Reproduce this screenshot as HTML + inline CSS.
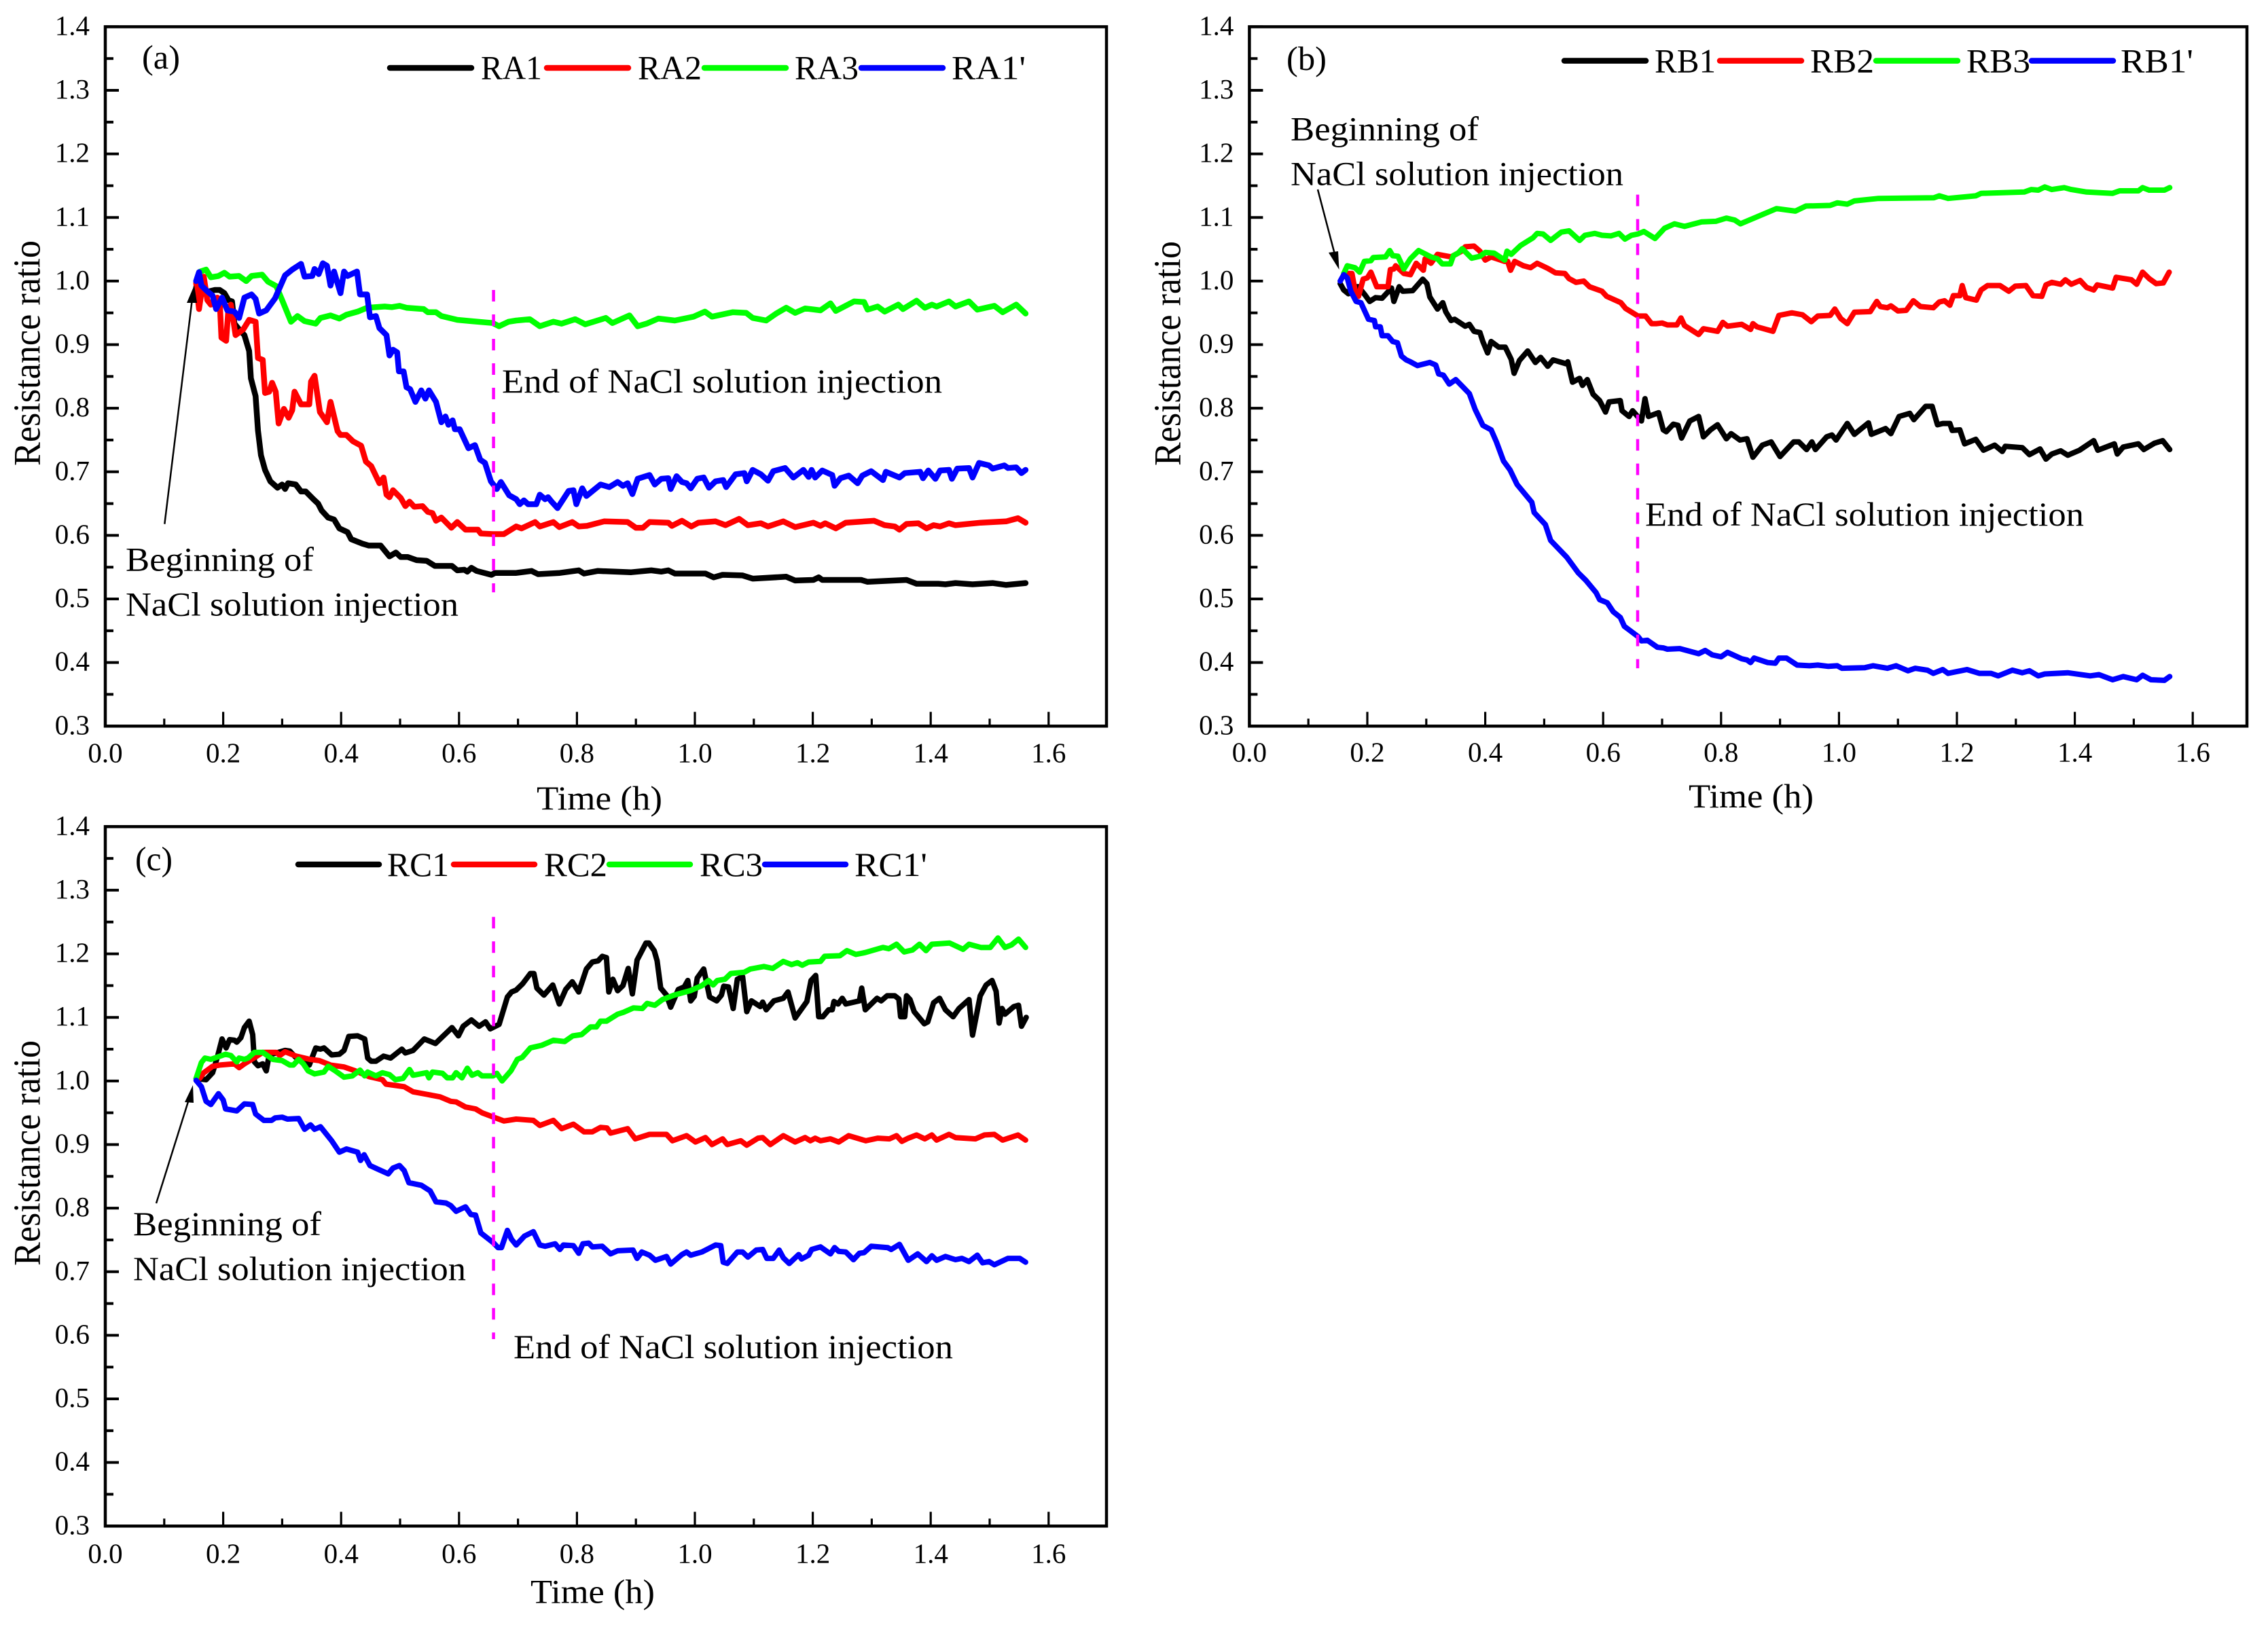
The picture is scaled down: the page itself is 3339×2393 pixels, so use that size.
<!DOCTYPE html>
<html lang="en">
<head>
<meta charset="utf-8">
<title>Resistance ratio over time during NaCl solution injection</title>
<style>
html,body{margin:0;padding:0;background:#fff;}
svg{display:block;}
text{font-family:"Liberation Serif",serif;fill:#000;}
.ann{font-size:50px;}
.leg{font-size:50px;}
.tick{font-size:41px;}
.axt{font-size:50px;}
.ytitle{font-size:56px;}
</style>
</head>
<body>
<svg id="figure" xmlns="http://www.w3.org/2000/svg" width="3339" height="2393" viewBox="0 0 3339 2393">
<rect x="0" y="0" width="3339" height="2393" fill="#fff"/>

<g id="panel-a"></g>
<g id="panel-b"></g>
<g id="panel-c"></g>

<g>
<text x="209" y="101" class="ann" textLength="56" lengthAdjust="spacingAndGlyphs">(a)</text>
<text x="790" y="1192" class="axt" textLength="185" lengthAdjust="spacingAndGlyphs">Time (h)</text>
<text transform="translate(58.5,686) rotate(-90)" class="ytitle" textLength="332" lengthAdjust="spacingAndGlyphs">Resistance ratio</text>
<text x="185" y="840.7" class="ann" textLength="277" lengthAdjust="spacingAndGlyphs">Beginning of</text>
<text x="185" y="906.7" class="ann" textLength="490" lengthAdjust="spacingAndGlyphs">NaCl solution injection</text>
<text x="739" y="578" class="ann" textLength="648" lengthAdjust="spacingAndGlyphs">End of NaCl solution injection</text>
<line x1="242.3" y1="771.7" x2="283" y2="440" stroke="#000" stroke-width="2.5"/>
<polygon points="286,420 275,446 290,446" fill="#000"/>
<line x1="574" y1="100" x2="694" y2="100" stroke="#000" stroke-width="8.5" stroke-linecap="round"/>
<text x="708" y="116.7" class="leg" textLength="90" lengthAdjust="spacingAndGlyphs">RA1</text>
<line x1="805" y1="100" x2="925" y2="100" stroke="#ff0000" stroke-width="8.5" stroke-linecap="round"/>
<text x="939" y="116.7" class="leg" textLength="94" lengthAdjust="spacingAndGlyphs">RA2</text>
<line x1="1037" y1="100" x2="1157" y2="100" stroke="#00ff00" stroke-width="8.5" stroke-linecap="round"/>
<text x="1170" y="116.7" class="leg" textLength="94" lengthAdjust="spacingAndGlyphs">RA3</text>
<line x1="1268" y1="100" x2="1388" y2="100" stroke="#0000ff" stroke-width="8.5" stroke-linecap="round"/>
<text x="1401" y="116.7" class="leg" textLength="109" lengthAdjust="spacingAndGlyphs">RA1'</text>
</g>

<g>
<text x="1894" y="103" class="ann" textLength="59" lengthAdjust="spacingAndGlyphs">(b)</text>
<text x="2486" y="1189" class="axt" textLength="184" lengthAdjust="spacingAndGlyphs">Time (h)</text>
<text transform="translate(1737.4,686) rotate(-90)" class="ytitle" textLength="331" lengthAdjust="spacingAndGlyphs">Resistance ratio</text>
<text x="1900" y="206.7" class="ann" textLength="277" lengthAdjust="spacingAndGlyphs">Beginning of</text>
<text x="1900" y="272.5" class="ann" textLength="490" lengthAdjust="spacingAndGlyphs">NaCl solution injection</text>
<text x="2422" y="774" class="ann" textLength="646" lengthAdjust="spacingAndGlyphs">End of NaCl solution injection</text>
<line x1="1940" y1="279" x2="1966" y2="378" stroke="#000" stroke-width="2.5"/>
<polygon points="1971.5,397 1956,372 1970,370" fill="#000"/>
<line x1="2303" y1="89.5" x2="2423" y2="89.5" stroke="#000" stroke-width="8.5" stroke-linecap="round"/>
<text x="2436" y="106.4" class="leg" textLength="90" lengthAdjust="spacingAndGlyphs">RB1</text>
<line x1="2532" y1="89.5" x2="2652" y2="89.5" stroke="#ff0000" stroke-width="8.5" stroke-linecap="round"/>
<text x="2665" y="106.4" class="leg" textLength="94" lengthAdjust="spacingAndGlyphs">RB2</text>
<line x1="2762" y1="89.5" x2="2882" y2="89.5" stroke="#00ff00" stroke-width="8.5" stroke-linecap="round"/>
<text x="2895" y="106.4" class="leg" textLength="94" lengthAdjust="spacingAndGlyphs">RB3</text>
<line x1="2991" y1="89.5" x2="3111" y2="89.5" stroke="#0000ff" stroke-width="8.5" stroke-linecap="round"/>
<text x="3122" y="106.4" class="leg" textLength="107" lengthAdjust="spacingAndGlyphs">RB1'</text>
</g>

<g>
<text x="199" y="1281.7" class="ann" textLength="55" lengthAdjust="spacingAndGlyphs">(c)</text>
<text x="781" y="2360.7" class="axt" textLength="183" lengthAdjust="spacingAndGlyphs">Time (h)</text>
<text transform="translate(58.5,1864) rotate(-90)" class="ytitle" textLength="332" lengthAdjust="spacingAndGlyphs">Resistance ratio</text>
<text x="196" y="1819" class="ann" textLength="277" lengthAdjust="spacingAndGlyphs">Beginning of</text>
<text x="196" y="1885" class="ann" textLength="490" lengthAdjust="spacingAndGlyphs">NaCl solution injection</text>
<text x="756" y="2000" class="ann" textLength="647" lengthAdjust="spacingAndGlyphs">End of NaCl solution injection</text>
<line x1="230" y1="1772" x2="279" y2="1616" stroke="#000" stroke-width="2.5"/>
<polygon points="284,1598 272,1623 285,1624" fill="#000"/>
<line x1="439" y1="1273" x2="558" y2="1273" stroke="#000" stroke-width="8.5" stroke-linecap="round"/>
<text x="570" y="1290" class="leg" textLength="91" lengthAdjust="spacingAndGlyphs">RC1</text>
<line x1="668" y1="1273" x2="787" y2="1273" stroke="#ff0000" stroke-width="8.5" stroke-linecap="round"/>
<text x="801" y="1290" class="leg" textLength="93" lengthAdjust="spacingAndGlyphs">RC2</text>
<line x1="897" y1="1273" x2="1016" y2="1273" stroke="#00ff00" stroke-width="8.5" stroke-linecap="round"/>
<text x="1030" y="1290" class="leg" textLength="93" lengthAdjust="spacingAndGlyphs">RC3</text>
<line x1="1126" y1="1273" x2="1245" y2="1273" stroke="#0000ff" stroke-width="8.5" stroke-linecap="round"/>
<text x="1258" y="1290" class="leg" textLength="107" lengthAdjust="spacingAndGlyphs">RC1'</text>
</g>
</svg>

<script>
// ---- tick labels ----
const xTickValues = [0,0.1,0.2,0.3,0.4,0.5,0.6,0.7,0.8,0.9,1.0,1.1,1.2,1.3,1.4,1.5,1.6,1.7];
const xTickLabels = ['0.0','','0.2','','0.4','','0.6','','0.8','','1.0','','1.2','','1.4','','1.6',''];
const yTickValues = [0.3,0.35,0.4,0.45,0.5,0.55,0.6,0.65,0.7,0.75,0.8,0.85,0.9,0.95,1.0,1.05,1.1,1.15,1.2,1.25,1.3,1.35,1.4];
const yTickLabels = ['0.3','','0.4','','0.5','','0.6','','0.7','','0.8','','0.9','','1.0','','1.1','','1.2','','1.3','','1.4'];
const injectionEndTime = 0.6585;

// ---- panel (a) ----
const ra1T = [.154,.173,.186,.194,.202,.209,.215,.219,.227,.236,.244,.247,.255,.259,.264,.271,.280,.292,.300,.305,.310,.323,.332,.340,.353,.361,.367,.378,.388,.397,.411,.417,.436,.447,.467,.482,.493,.501,.513,.528,.545,.559,.588,.597,.609,.614,.621,.630,.655,.661,.697,.723,.734,.771,.803,.812,.835,.892,.926,.943,.955,.966,1.018,1.032,1.047,1.081,1.098,1.155,1.170,1.201,1.210,1.216,1.282,1.293,1.359,1.376,1.413,1.425,1.442,1.471,1.505,1.528,1.561];
const ra1V = [.990,.983,.986,.986,.981,.970,.968,.933,.924,.915,.890,.847,.819,.765,.726,.703,.685,.675,.680,.673,.682,.680,.669,.669,.657,.650,.639,.628,.625,.611,.605,.594,.587,.584,.584,.567,.573,.566,.566,.561,.560,.552,.552,.545,.546,.543,.549,.544,.538,.541,.541,.544,.539,.541,.545,.540,.544,.542,.545,.543,.545,.540,.540,.534,.538,.537,.532,.535,.529,.530,.534,.530,.530,.527,.530,.524,.524,.523,.525,.523,.525,.522,.525];
const ra2T = [.154,.159,.167,.173,.179,.190,.194,.197,.205,.209,.213,.221,.234,.244,.255,.259,.267,.271,.278,.283,.289,.294,.303,.311,.317,.321,.332,.346,.349,.355,.364,.376,.382,.394,.399,.409,.420,.434,.442,.451,.465,.472,.477,.482,.488,.501,.509,.516,.524,.538,.547,.555,.561,.570,.587,.597,.611,.632,.637,.657,.676,.697,.706,.729,.737,.760,.770,.792,.803,.817,.846,.886,.900,.912,.923,.955,.961,.978,.994,1.006,1.035,1.052,1.075,1.090,1.112,1.124,1.150,1.170,1.201,1.213,1.221,1.239,1.256,1.304,1.322,1.339,1.347,1.359,1.379,1.393,1.405,1.416,1.431,1.442,1.485,1.528,1.548,1.561];
const ra2V = [.997,.956,1.007,.970,.963,.974,.970,.911,.906,.958,.963,.915,.924,.939,.936,.879,.876,.824,.826,.840,.826,.776,.799,.785,.797,.826,.806,.806,.842,.851,.794,.778,.810,.764,.758,.758,.748,.741,.716,.709,.682,.691,.664,.660,.671,.659,.646,.653,.645,.646,.637,.635,.623,.628,.612,.621,.609,.609,.603,.602,.602,.614,.611,.621,.614,.621,.613,.621,.614,.615,.622,.621,.612,.612,.621,.620,.615,.623,.614,.620,.622,.616,.626,.616,.619,.614,.622,.613,.620,.615,.619,.611,.620,.623,.616,.614,.609,.618,.619,.611,.616,.614,.619,.616,.620,.622,.627,.620];
const ra3T = [.161,.171,.179,.192,.202,.211,.227,.239,.248,.266,.276,.290,.300,.315,.326,.338,.357,.365,.382,.397,.409,.428,.444,.474,.486,.499,.511,.540,.547,.561,.570,.597,.620,.657,.668,.684,.697,.720,.737,.760,.774,.797,.814,.849,.860,.889,.903,.918,.938,.966,.998,1.017,1.029,1.064,1.087,1.098,1.121,1.138,1.155,1.170,1.187,1.213,1.230,1.239,1.270,1.287,1.293,1.310,1.322,1.345,1.353,1.376,1.390,1.402,1.410,1.431,1.442,1.465,1.479,1.508,1.522,1.545,1.561];
const ra3V = [1.015,1.018,1.006,1.008,1.013,1.007,1.008,1.000,1.008,1.010,.999,.992,.970,.936,.945,.937,.933,.942,.946,.941,.947,.952,.958,.960,.959,.961,.958,.956,.951,.951,.945,.939,.937,.934,.929,.936,.938,.940,.929,.936,.933,.940,.932,.942,.934,.946,.929,.933,.941,.938,.944,.952,.944,.951,.950,.942,.938,.949,.958,.950,.957,.954,.965,.953,.968,.967,.955,.960,.952,.963,.956,.969,.958,.963,.960,.968,.960,.968,.955,.961,.951,.963,.949];
const ra4T = [.154,.159,.163,.173,.182,.188,.198,.207,.219,.227,.236,.248,.255,.261,.273,.288,.305,.317,.332,.338,.351,.355,.362,.369,.376,.382,.388,.399,.405,.411,.427,.432,.444,.449,.459,.465,.477,.482,.488,.495,.498,.506,.511,.517,.526,.536,.543,.549,.561,.570,.577,.582,.589,.593,.601,.616,.627,.636,.644,.654,.664,.671,.685,.697,.703,.710,.717,.731,.737,.746,.751,.757,.767,.786,.794,.799,.809,.816,.840,.855,.869,.878,.886,.894,.903,.923,.932,.943,.955,.959,.969,.978,.986,.993,1.004,1.015,1.024,1.035,1.048,1.053,1.069,1.084,1.088,1.098,1.112,1.124,1.133,1.153,1.167,1.184,1.193,1.198,1.204,1.216,1.233,1.237,1.247,1.261,1.276,1.284,1.299,1.319,1.324,1.347,1.356,1.382,1.387,1.396,1.408,1.416,1.431,1.436,1.445,1.465,1.471,1.482,1.499,1.505,1.525,1.531,1.545,1.554,1.561];
const ra4V = [1.000,1.014,.993,.984,.977,.956,.974,.954,.952,.942,.974,.979,.972,.949,.954,.973,1.009,1.018,1.027,1.007,1.008,1.019,1.011,1.028,1.024,.993,1.015,.981,1.015,1.008,1.015,.979,.979,.943,.945,.926,.915,.883,.892,.888,.858,.858,.833,.830,.810,.828,.815,.828,.810,.778,.787,.774,.781,.767,.767,.737,.742,.719,.714,.685,.673,.684,.663,.657,.649,.655,.649,.649,.664,.657,.660,.653,.643,.670,.671,.649,.674,.662,.680,.676,.684,.678,.682,.665,.689,.695,.680,.689,.690,.673,.693,.684,.682,.674,.689,.691,.675,.685,.687,.676,.696,.698,.685,.703,.696,.686,.701,.706,.691,.703,.692,.703,.691,.702,.695,.678,.690,.694,.682,.694,.701,.687,.700,.691,.698,.700,.690,.702,.689,.702,.703,.689,.705,.706,.691,.714,.710,.705,.710,.706,.707,.698,.703];

// ---- panel (b) ----
const rb1T = [.154,.160,.168,.172,.185,.197,.204,.214,.225,.241,.245,.254,.260,.277,.294,.301,.306,.319,.328,.333,.342,.348,.366,.373,.381,.391,.396,.404,.410,.423,.434,.444,.449,.458,.472,.485,.494,.506,.515,.537,.540,.548,.560,.565,.573,.583,.594,.604,.610,.629,.632,.644,.650,.665,.671,.677,.694,.702,.707,.719,.727,.733,.747,.762,.770,.782,.794,.809,.817,.832,.844,.854,.870,.885,.900,.923,.932,.945,.954,.960,.979,.988,.995,1.014,1.026,1.050,1.055,1.079,1.088,1.102,1.120,1.127,1.147,1.158,1.167,1.176,1.188,1.192,1.205,1.213,1.232,1.245,1.264,1.277,1.282,1.311,1.323,1.341,1.351,1.361,1.376,1.388,1.408,1.432,1.439,1.467,1.472,1.482,1.508,1.517,1.535,1.549,1.561];
const rb1V = [.996,.986,.980,.991,.991,.977,.968,.974,.973,.989,.968,.991,.984,.985,1.003,.996,.975,.956,.966,.952,.938,.940,.929,.932,.921,.919,.905,.887,.905,.896,.896,.877,.855,.875,.890,.872,.880,.866,.876,.870,.873,.841,.847,.836,.845,.822,.812,.794,.810,.812,.796,.787,.796,.780,.815,.787,.793,.766,.763,.775,.773,.753,.780,.787,.755,.766,.774,.752,.760,.750,.752,.723,.742,.747,.724,.747,.747,.735,.747,.735,.755,.758,.750,.776,.759,.777,.759,.768,.760,.787,.792,.782,.803,.803,.774,.776,.776,.765,.766,.744,.751,.734,.742,.732,.740,.738,.727,.736,.720,.728,.733,.726,.734,.749,.734,.744,.728,.739,.744,.735,.745,.749,.735];
const rb2T = [.168,.174,.179,.185,.193,.200,.206,.216,.235,.239,.245,.248,.262,.273,.283,.295,.298,.308,.319,.342,.360,.366,.381,.391,.400,.410,.433,.438,.443,.450,.465,.477,.488,.506,.519,.535,.542,.554,.567,.577,.598,.606,.630,.638,.659,.672,.682,.690,.700,.709,.725,.732,.738,.762,.770,.794,.803,.811,.835,.850,.854,.861,.888,.898,.920,.938,.953,.964,.985,.993,1.003,1.014,1.026,1.053,1.064,1.070,1.082,1.088,1.100,1.114,1.126,1.138,1.160,1.170,1.179,1.188,1.194,1.205,1.209,1.215,1.233,1.241,1.252,1.273,1.288,1.299,1.317,1.329,1.344,1.351,1.361,1.376,1.384,1.394,1.409,1.420,1.432,1.438,1.464,1.470,1.496,1.505,1.515,1.526,1.538,1.550,1.560];
const rb2V = [1.012,1.012,.986,.976,1.003,1.005,1.014,.991,.991,1.018,1.019,1.024,1.012,1.010,1.028,1.017,1.035,1.028,1.042,1.038,1.047,1.054,1.055,1.047,1.033,1.038,1.031,1.031,1.017,1.031,1.024,1.021,1.028,1.020,1.013,1.012,1.004,.998,1.000,.991,.984,.976,.966,.957,.945,.945,.933,.933,.934,.931,.931,.942,.930,.916,.925,.921,.935,.929,.932,.924,.933,.928,.921,.946,.950,.947,.936,.945,.946,.956,.941,.933,.951,.952,.968,.960,.958,.961,.953,.954,.969,.960,.958,.967,.969,.962,.977,.977,.993,.974,.970,.986,.993,.993,.984,.992,.993,.977,.976,.994,.998,.995,1.002,.995,1.001,.990,.986,.994,.989,1.006,1.002,.995,1.014,1.004,.996,.997,1.014];
const rb3T = [.160,.166,.179,.187,.195,.206,.210,.231,.238,.243,.252,.262,.273,.287,.308,.319,.327,.341,.346,.354,.361,.377,.391,.400,.415,.433,.437,.444,.460,.481,.488,.498,.511,.529,.542,.560,.569,.586,.598,.613,.627,.637,.648,.659,.669,.688,.704,.721,.738,.767,.791,.809,.823,.833,.861,.894,.926,.944,.985,.997,1.014,1.026,1.067,1.161,1.170,1.185,1.232,1.241,1.314,1.326,1.338,1.349,1.361,1.382,1.394,1.420,1.464,1.476,1.508,1.515,1.526,1.552,1.561];
const rb3V = [1.012,1.024,1.021,1.014,1.031,1.032,1.037,1.038,1.048,1.040,1.039,1.019,1.035,1.048,1.038,1.035,1.027,1.027,1.040,1.044,1.051,1.036,1.039,1.045,1.044,1.033,1.047,1.042,1.056,1.068,1.075,1.074,1.064,1.077,1.079,1.064,1.072,1.075,1.072,1.071,1.075,1.066,1.072,1.074,1.078,1.067,1.083,1.090,1.086,1.093,1.094,1.099,1.096,1.090,1.101,1.114,1.110,1.118,1.119,1.123,1.121,1.126,1.130,1.131,1.134,1.130,1.134,1.138,1.140,1.144,1.143,1.148,1.144,1.147,1.144,1.140,1.138,1.142,1.142,1.147,1.143,1.143,1.147];
const rb4T = [.154,.160,.166,.172,.181,.189,.202,.212,.214,.222,.225,.235,.243,.251,.258,.266,.273,.285,.306,.316,.321,.329,.339,.350,.373,.383,.396,.410,.419,.431,.442,.454,.479,.483,.502,.511,.538,.558,.571,.588,.594,.607,.617,.629,.636,.659,.665,.675,.692,.702,.709,.730,.762,.773,.785,.800,.811,.835,.844,.850,.856,.879,.892,.898,.911,.929,.950,.964,.982,.997,1.005,1.044,1.058,1.082,1.097,1.117,1.129,1.150,1.160,1.176,1.185,1.217,1.238,1.258,1.270,1.294,1.311,1.323,1.338,1.349,1.388,1.426,1.441,1.464,1.482,1.505,1.515,1.529,1.552,1.561];
const rb4V = [1.000,1.010,1.005,.984,.968,.966,.940,.938,.928,.928,.914,.914,.905,.903,.882,.876,.873,.867,.872,.868,.854,.852,.838,.845,.823,.798,.773,.766,.747,.717,.703,.680,.652,.636,.617,.592,.566,.541,.529,.510,.499,.494,.480,.471,.457,.441,.434,.435,.424,.423,.421,.422,.414,.419,.412,.409,.416,.406,.404,.400,.407,.400,.399,.407,.407,.396,.395,.396,.394,.395,.391,.392,.395,.391,.395,.387,.391,.388,.383,.389,.383,.389,.383,.383,.379,.388,.384,.387,.379,.382,.384,.379,.381,.373,.378,.373,.380,.373,.372,.378];

// ---- panel (c) ----
const rc1T = [.154,.171,.182,.190,.198,.205,.211,.219,.223,.230,.236,.244,.250,.253,.259,.267,.273,.278,.305,.313,.323,.346,.357,.365,.371,.384,.397,.405,.413,.428,.440,.445,.451,.459,.472,.484,.503,.509,.522,.541,.560,.578,.588,.599,.607,.621,.634,.645,.653,.668,.682,.689,.697,.708,.721,.727,.732,.744,.759,.770,.781,.792,.803,.816,.826,.836,.843,.850,.854,.861,.869,.878,.887,.894,.902,.917,.922,.931,.936,.942,.952,.959,.972,.982,.988,.993,.999,1.004,1.015,1.025,1.037,1.045,1.049,1.057,1.065,1.072,1.081,1.088,1.096,1.111,1.115,1.121,1.134,1.150,1.158,1.170,1.190,1.197,1.205,1.210,1.217,1.227,1.233,1.236,1.243,1.250,1.256,1.279,1.283,1.289,1.309,1.316,1.326,1.339,1.346,1.349,1.356,1.359,1.365,1.372,1.389,1.395,1.405,1.415,1.425,1.438,1.448,1.465,1.471,1.484,1.494,1.504,1.511,1.516,1.521,1.526,1.541,1.549,1.554,1.562];
const rc1V = [1.004,1.002,1.013,1.037,1.066,1.052,1.065,1.064,1.061,1.068,1.084,1.094,1.073,1.030,1.024,1.027,1.016,1.041,1.048,1.047,1.037,1.025,1.052,1.050,1.052,1.041,1.042,1.048,1.070,1.071,1.066,1.036,1.031,1.031,1.039,1.036,1.050,1.044,1.048,1.066,1.059,1.075,1.084,1.071,1.086,1.096,1.086,1.093,1.082,1.089,1.132,1.140,1.143,1.153,1.169,1.169,1.146,1.135,1.151,1.121,1.144,1.156,1.140,1.176,1.187,1.189,1.196,1.194,1.140,1.160,1.142,1.150,1.177,1.137,1.190,1.217,1.217,1.205,1.189,1.146,1.135,1.116,1.144,1.148,1.158,1.126,1.133,1.162,1.176,1.132,1.126,1.135,1.149,1.148,1.114,1.160,1.164,1.109,1.126,1.117,1.124,1.112,1.126,1.130,1.140,1.099,1.125,1.158,1.166,1.101,1.101,1.112,1.112,1.125,1.121,1.130,1.121,1.126,1.146,1.112,1.130,1.126,1.134,1.134,1.129,1.101,1.101,1.134,1.128,1.109,1.090,1.093,1.123,1.130,1.112,1.101,1.114,1.128,1.072,1.134,1.151,1.158,1.141,1.091,1.114,1.105,1.117,1.119,1.086,1.100];
const rc2T = [.155,.161,.167,.182,.194,.219,.227,.236,.252,.267,.290,.296,.305,.324,.347,.363,.382,.405,.424,.447,.470,.476,.507,.522,.545,.568,.586,.595,.611,.628,.639,.659,.676,.697,.726,.737,.760,.774,.794,.812,.826,.840,.851,.857,.886,.899,.923,.938,.952,.962,.986,1.001,1.018,1.029,1.047,1.055,1.078,1.088,1.107,1.115,1.128,1.150,1.170,1.187,1.196,1.204,1.213,1.230,1.244,1.261,1.290,1.310,1.330,1.342,1.351,1.362,1.376,1.390,1.402,1.410,1.431,1.442,1.476,1.491,1.508,1.522,1.548,1.561];
const rc2V = [1.000,1.005,1.013,1.023,1.025,1.027,1.021,1.027,1.036,1.045,1.045,1.040,1.046,1.039,1.034,1.032,1.025,1.022,1.016,1.007,1.002,.995,.991,.983,.979,.975,.968,.967,.959,.956,.950,.943,.937,.940,.938,.930,.938,.925,.932,.920,.920,.927,.926,.918,.925,.909,.916,.916,.916,.906,.914,.904,.911,.900,.909,.900,.906,.899,.910,.911,.900,.914,.904,.911,.906,.910,.906,.909,.904,.914,.906,.910,.909,.914,.905,.910,.915,.909,.915,.907,.916,.911,.909,.915,.916,.907,.915,.907];
const rc3T = [.154,.163,.169,.179,.204,.213,.223,.227,.236,.242,.253,.267,.284,.300,.313,.319,.328,.336,.344,.355,.371,.378,.390,.405,.419,.432,.440,.445,.459,.470,.482,.492,.505,.516,.522,.545,.549,.555,.572,.580,.589,.595,.605,.614,.622,.632,.639,.658,.664,.673,.688,.699,.707,.721,.740,.760,.779,.793,.808,.823,.833,.840,.850,.869,.879,.896,.911,.919,.932,.945,.965,.992,1.012,1.023,1.031,1.038,1.051,1.061,1.084,1.094,1.117,1.132,1.150,1.164,1.174,1.182,1.193,1.213,1.220,1.246,1.258,1.273,1.289,1.319,1.329,1.342,1.355,1.369,1.381,1.392,1.402,1.432,1.455,1.465,1.485,1.501,1.514,1.526,1.537,1.549,1.561];
const rc3V = [1.004,1.029,1.036,1.034,1.042,1.040,1.030,1.036,1.034,1.036,1.045,1.045,1.034,1.032,1.025,1.025,1.034,1.027,1.016,1.011,1.014,1.023,1.016,1.006,1.008,1.017,1.008,1.014,1.008,1.013,1.010,1.002,1.004,1.018,1.009,1.013,1.005,1.014,1.012,1.005,1.005,1.013,1.005,1.020,1.009,1.013,1.008,1.008,1.012,1.000,1.016,1.034,1.037,1.052,1.056,1.064,1.062,1.071,1.073,1.085,1.085,1.094,1.094,1.105,1.108,1.115,1.114,1.122,1.119,1.128,1.135,1.142,1.150,1.158,1.151,1.158,1.160,1.169,1.171,1.176,1.180,1.177,1.188,1.183,1.186,1.182,1.187,1.188,1.196,1.197,1.205,1.199,1.202,1.210,1.208,1.215,1.203,1.206,1.215,1.205,1.215,1.217,1.207,1.215,1.210,1.210,1.225,1.210,1.214,1.223,1.210];
const rc4T = [.154,.163,.171,.179,.192,.200,.204,.223,.236,.250,.255,.269,.282,.288,.300,.309,.328,.338,.348,.355,.365,.384,.397,.409,.428,.433,.439,.449,.463,.480,.488,.499,.507,.515,.536,.551,.561,.578,.586,.595,.611,.620,.628,.637,.659,.666,.672,.682,.689,.697,.711,.726,.737,.746,.763,.771,.777,.794,.803,.810,.820,.826,.843,.857,.869,.895,.902,.910,.923,.933,.952,.959,.978,.986,.993,1.012,1.035,1.044,1.048,1.055,1.072,1.081,1.090,1.104,1.115,1.122,1.133,1.143,1.150,1.160,1.176,1.181,1.193,1.198,1.213,1.230,1.237,1.244,1.256,1.269,1.279,1.287,1.299,1.327,1.333,1.347,1.362,1.378,1.393,1.402,1.410,1.425,1.442,1.453,1.465,1.479,1.488,1.499,1.508,1.531,1.551,1.561];
const rc4V = [1.001,.991,.968,.963,.980,.970,.956,.953,.964,.963,.948,.938,.938,.942,.943,.940,.941,.924,.931,.924,.928,.906,.888,.893,.888,.875,.884,.867,.861,.854,.863,.867,.859,.840,.836,.827,.810,.808,.804,.795,.802,.790,.789,.761,.745,.738,.738,.765,.751,.742,.756,.763,.742,.740,.744,.735,.742,.741,.729,.744,.745,.739,.740,.728,.733,.734,.721,.731,.726,.718,.724,.712,.727,.731,.726,.731,.742,.741,.715,.713,.731,.731,.723,.734,.735,.721,.721,.734,.722,.713,.727,.720,.726,.735,.739,.728,.738,.732,.731,.719,.729,.730,.740,.738,.735,.743,.718,.728,.716,.725,.718,.724,.719,.721,.716,.726,.714,.716,.711,.721,.721,.715];

// ---- layout and rendering ----
const NS = 'http://www.w3.org/2000/svg';
const xMin = 0, xMax = 1.7, yMin = 0.3, yMax = 1.4;

function mk(parent, tag, attrs) {
  const el = document.createElementNS(NS, tag);
  for (const k in attrs) el.setAttribute(k, attrs[k]);
  parent.appendChild(el);
  return el;
}

function renderPanel(id, key, layout, series) {
  const root = document.getElementById(id);
  const xPos = t => layout.left + (t - xMin) / (xMax - xMin) * layout.width;
  const yPos = v => layout.bottom - (v - yMin) / (yMax - yMin) * layout.height;

  const frame = mk(root, 'rect', {x: layout.left, y: yPos(yMax), width: layout.frameWidth, height: layout.height, fill: 'none', stroke: '#000', 'stroke-width': 4.5});
  
  

  xTickValues.forEach((t, i) => {
    if (xPos(t) > layout.left + layout.frameWidth) return;
    const major = xTickLabels[i] !== '';
    const tick = mk(root, 'line', {x1: xPos(t), x2: xPos(t), y1: layout.bottom, y2: layout.bottom - (major ? 21 : 11), stroke: '#000', 'stroke-width': 3.2});
    
    
    if (major) {
      const lab = mk(root, 'text', {x: xPos(t), y: layout.bottom + layout.xLabelGap, 'text-anchor': 'middle', class: 'tick'});
      lab.textContent = xTickLabels[i];
      
      
    }
  });

  yTickValues.forEach((v, i) => {
    const major = yTickLabels[i] !== '';
    const tick = mk(root, 'line', {x1: layout.left, x2: layout.left + (major ? 20 : 12), y1: yPos(v), y2: yPos(v), stroke: '#000', 'stroke-width': 4});
    
    
    if (major) {
      const lab = mk(root, 'text', {x: layout.left - 23, y: yPos(v) + 12, 'text-anchor': 'end', class: 'tick'});
      lab.textContent = yTickLabels[i];
      
      
    }
  });

  series.forEach(s => {
    const pts = s.t.map((t, i) => xPos(t).toFixed(1) + ',' + yPos(s.v[i]).toFixed(1)).join(' ');
    const line = mk(root, 'polyline', {points: pts, fill: 'none', stroke: s.color, 'stroke-width': layout.lineWidth, 'stroke-linejoin': 'round', 'stroke-linecap': 'round'});
    
    
  });

  const marker = mk(root, 'line', {x1: xPos(injectionEndTime), x2: xPos(injectionEndTime), y1: yPos(layout.markerTop), y2: yPos(layout.markerBottom), stroke: '#ff00ff', 'stroke-width': 4.5, 'stroke-dasharray': '17 19'});
  
  
}

renderPanel('panel-a', 'panel-a',
  {left: 155, bottom: 1069.3, width: 1475.6, frameWidth: 1474, height: 1029.9, xLabelGap: 53.4, lineWidth: 8.5, markerTop: 0.986, markerBottom: 0.5105},
  [
    {name: 'ra1', color: '#000000', t: ra1T, v: ra1V},
    {name: 'ra2', color: '#ff0000', t: ra2T, v: ra2V},
    {name: 'ra3', color: '#00ff00', t: ra3T, v: ra3V},
    {name: 'ra1-prime', color: '#0000ff', t: ra4T, v: ra4V}
  ]);

renderPanel('panel-b', 'panel-b',
  {left: 1839.4, bottom: 1069.3, width: 1475.6, frameWidth: 1468.6, height: 1029.9, xLabelGap: 52, lineWidth: 8, markerTop: 1.136, markerBottom: 0.391},
  [
    {name: 'rb1', color: '#000000', t: rb1T, v: rb1V},
    {name: 'rb2', color: '#ff0000', t: rb2T, v: rb2V},
    {name: 'rb3', color: '#00ff00', t: rb3T, v: rb3V},
    {name: 'rb1-prime', color: '#0000ff', t: rb4T, v: rb4V}
  ]);

renderPanel('panel-c', 'panel-c',
  {left: 155, bottom: 2247.3, width: 1475.6, frameWidth: 1474, height: 1030, xLabelGap: 54.4, lineWidth: 8, markerTop: 1.258, markerBottom: 0.594},
  [
    {name: 'rc1', color: '#000000', t: rc1T, v: rc1V},
    {name: 'rc2', color: '#ff0000', t: rc2T, v: rc2V},
    {name: 'rc3', color: '#00ff00', t: rc3T, v: rc3V},
    {name: 'rc1-prime', color: '#0000ff', t: rc4T, v: rc4V}
  ]);
</script>
</body>
</html>
